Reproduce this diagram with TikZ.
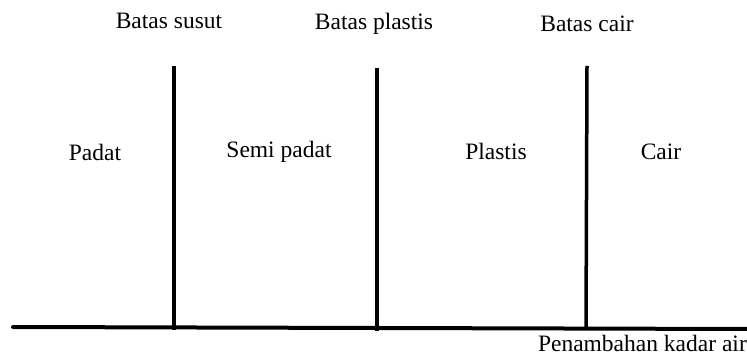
\documentclass[tikz,border=0pt]{standalone}
\usepackage{fontspec}
\setmainfont{Liberation Serif}
\begin{document}
\begin{tikzpicture}[
                x=1pt, y=-1pt,
                every node/.style={inner sep=0pt, font=\fontsize{23.5}{26}\selectfont},
                batas/.style={line width=3.5pt},
                sumbu/.style={line width=4pt, line cap=round}
            ]

            \useasboundingbox (0,0) rectangle (747,355);

            % batas-batas konsistensi
            \coordinate (s1) at (174,66);
            \coordinate (s2) at (174,330);
            \coordinate (p1) at (377,68);
            \coordinate (p2) at (377,331);
            \coordinate (c1) at (587,66);
            \coordinate (c2) at (586,330);

            \draw[batas] (s1) -- (s2);
            \draw[batas] (p1) -- (p2);
            \draw[batas] (c1) -- (c2);

            % sumbu kadar air
            \coordinate (a0) at (13,327);
            \coordinate (a1) at (747,329);
            \draw[sumbu] (a0) -- (a1);

            \node (bsusut) at (169,21) {Batas susut};
            \node (bplastis) at (374,24) {Batas plastis};
            \node (bcair) at (587,24) {Batas cair};

            \node (padat) at (95,152) {Padat};
            \node (semi) at (279,152) {Semi padat};
            \node (plastis) at (496,151) {Plastis};
            \node (cair) at (661,152) {Cair};

            \node[anchor=east] (tambah) at (747,343) {Penambahan kadar air};

        \end{tikzpicture}
\end{document}
